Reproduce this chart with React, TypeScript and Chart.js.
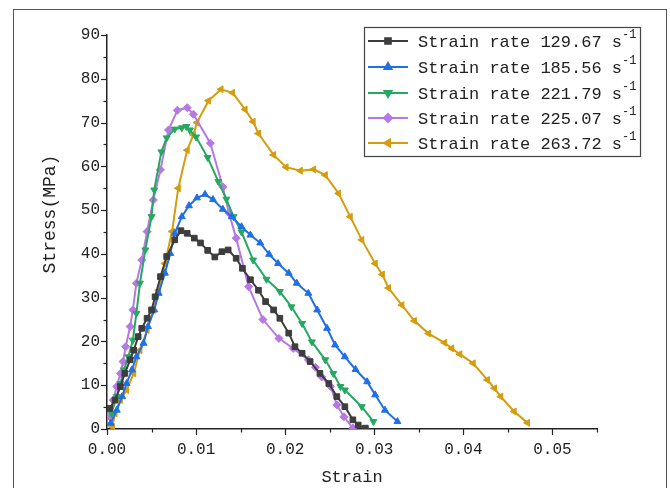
import React, { useEffect, useRef } from "react";
import { Chart, registerables } from "chart.js";
import { drawPoint } from "chart.js/helpers";

Chart.register(...registerables);

// ---- data ----
const seriesLabels = ["Strain rate 129.67", "Strain rate 185.56", "Strain rate 221.79", "Strain rate 225.07", "Strain rate 263.72"];

const strainA = [0.0003, 0.0009, 0.0015, 0.002, 0.0026, 0.003, 0.0035, 0.0039, 0.0045, 0.005, 0.0054, 0.006, 0.0067, 0.0076, 0.0083, 0.009, 0.0098, 0.0105, 0.0113, 0.0121, 0.0129, 0.0136, 0.0145, 0.0152, 0.0161, 0.017, 0.0178, 0.0187, 0.0194, 0.0204, 0.0211, 0.0219, 0.0228, 0.0239, 0.0249, 0.0258, 0.0267, 0.0276, 0.0282, 0.029];
const stressA = [4.7, 6.6, 9.7, 12.7, 15.8, 18.0, 21.1, 23.0, 25.3, 27.2, 30.2, 34.8, 39.4, 43.2, 45.3, 44.7, 43.6, 42.5, 40.8, 39.3, 40.5, 40.9, 39.0, 36.7, 34.1, 31.7, 29.1, 27.2, 25.3, 21.9, 18.8, 17.3, 15.4, 12.7, 10.4, 7.4, 5.1, 2.1, 0.9, 0.2];

const strainB = [0.0004, 0.0011, 0.0017, 0.0022, 0.0028, 0.0033, 0.0041, 0.0046, 0.0053, 0.0058, 0.0065, 0.0071, 0.0076, 0.0084, 0.0092, 0.0101, 0.011, 0.0119, 0.013, 0.014, 0.0151, 0.0161, 0.0172, 0.0182, 0.0192, 0.0204, 0.0213, 0.0226, 0.0236, 0.0247, 0.0256, 0.0267, 0.0279, 0.0292, 0.0301, 0.0312, 0.0326];
const stressB = [1.3, 4.3, 7.4, 10.4, 13.5, 16.5, 19.6, 23.4, 27.2, 31.0, 35.6, 40.1, 44.7, 48.5, 51.0, 52.8, 53.6, 52.4, 50.2, 48.5, 46.2, 44.3, 42.5, 39.9, 37.8, 35.6, 33.3, 31.0, 27.2, 23.0, 19.2, 16.5, 13.6, 10.8, 7.8, 4.3, 1.7];

const strainC = [0.0005, 0.0011, 0.0015, 0.0019, 0.0024, 0.0029, 0.0033, 0.0037, 0.0043, 0.005, 0.0053, 0.0061, 0.0067, 0.0076, 0.0084, 0.0089, 0.0093, 0.01, 0.0113, 0.0125, 0.0134, 0.0142, 0.0151, 0.0164, 0.0179, 0.0194, 0.0207, 0.0219, 0.023, 0.0245, 0.0254, 0.0262, 0.0267, 0.0286, 0.0299];
const stressC = [3.6, 7.4, 10.4, 13.5, 16.5, 20.3, 26.4, 33.3, 40.9, 48.5, 54.6, 63.3, 66.5, 68.5, 68.8, 69.1, 68.3, 66.7, 62.0, 56.5, 52.5, 48.5, 45.0, 38.6, 34.2, 31.4, 27.9, 24.1, 19.9, 15.8, 12.7, 9.7, 8.9, 5.1, 1.7];

const strainD = [0.0003, 0.0007, 0.0011, 0.0015, 0.0018, 0.0021, 0.0026, 0.0029, 0.0033, 0.0039, 0.0045, 0.0052, 0.006, 0.0069, 0.0079, 0.009, 0.0097, 0.0116, 0.013, 0.0137, 0.0145, 0.0159, 0.0175, 0.0193, 0.0209, 0.0226, 0.0234, 0.0241, 0.0251, 0.0258, 0.0266, 0.0276];
const stressD = [2.8, 6.6, 9.7, 12.7, 15.4, 18.8, 23.4, 27.2, 33.3, 38.6, 45.1, 52.3, 59.2, 68.3, 72.8, 73.4, 71.9, 65.3, 55.3, 49.3, 43.6, 32.5, 25.0, 20.7, 18.4, 15.8, 14.1, 11.9, 9.7, 5.5, 2.8, 0.2];

const strainE = [0.0006, 0.0009, 0.0015, 0.0022, 0.003, 0.0037, 0.0045, 0.0052, 0.0058, 0.0065, 0.0073, 0.008, 0.009, 0.0097, 0.0101, 0.0114, 0.0128, 0.0141, 0.0155, 0.0164, 0.017, 0.0187, 0.0201, 0.0217, 0.0232, 0.0245, 0.026, 0.0273, 0.0286, 0.0301, 0.0309, 0.0316, 0.0331, 0.0345, 0.0361, 0.0379, 0.0387, 0.0396, 0.0411, 0.0427, 0.0435, 0.0442, 0.0457, 0.0472];
const stressE = [0.5, 3.6, 6.6, 8.9, 12.7, 18.0, 22.6, 27.2, 31.7, 37.8, 45.1, 55.0, 63.7, 67.2, 70.0, 75.0, 77.6, 76.8, 73.0, 70.2, 67.5, 62.6, 59.8, 59.0, 59.3, 58.0, 53.8, 48.5, 43.2, 37.8, 35.3, 32.2, 28.3, 24.7, 21.8, 19.7, 18.4, 17.1, 15.0, 11.2, 9.3, 7.4, 4.0, 1.4];

const xTickValues = [0, 0.01, 0.02, 0.03, 0.04, 0.05];
const yTickValues = [0, 10, 20, 30, 40, 50, 60, 70, 80, 90];

// ---- styles ----
const colors = ["#3d3d3d", "#1f6fe5", "#27a862", "#b678e3", "#d49d0e"];
const pointStyles = ["rect", "triangle", "triangle", "rectRot", "triangle"];
const pointRotations = [0, 0, 180, 0, -90];
const pointRadii = [4, 4, 4, 4, 4];

const FONT = "'Liberation Mono', 'DejaVu Sans Mono', monospace";

const toPoints = (xs: number[], ys: number[]) => xs.map((x, i) => ({ x, y: ys[i] }));

const allSeries = [
  toPoints(strainA, stressA),
  toPoints(strainB, stressB),
  toPoints(strainC, stressC),
  toPoints(strainD, stressD),
  toPoints(strainE, stressE),
];

const decorPlugin = {
  id: "decor",
  afterDraw(chart: any) {
    const ctx = chart.ctx as CanvasRenderingContext2D;
    const area = chart.chartArea;
    const xs = chart.scales.x;
    const ys = chart.scales.y;
    ctx.save();
    // outer frame
    ctx.strokeStyle = "#555";
    ctx.lineWidth = 1;
    ctx.strokeRect(13.5, 9.5, 653, 600);

    // ticks
    ctx.strokeStyle = "#222";
    ctx.lineWidth = 1.2;
    for (let i = 0; i <= 18; i++) {
      const v = i * 5;
      const py = Math.round(ys.getPixelForValue(v)) + 0.5;
      const len = i % 2 === 0 ? 6 : 3.5;
      ctx.beginPath();
      ctx.moveTo(area.left, py);
      ctx.lineTo(area.left - len, py);
      ctx.stroke();
    }
    for (let i = 0; i <= 11; i++) {
      const v = i * 0.005;
      const px = Math.round(xs.getPixelForValue(v)) + 0.5;
      const len = i % 2 === 0 ? 6 : 3.5;
      ctx.beginPath();
      ctx.moveTo(px, area.bottom);
      ctx.lineTo(px, area.bottom + len);
      ctx.stroke();
    }

    // axis titles
    ctx.fillStyle = "#222";
    ctx.font = `17px ${FONT}`;
    ctx.textAlign = "center";
    ctx.textBaseline = "middle";
    ctx.fillText("Strain", (area.left + area.right) / 2, 477);
    ctx.save();
    ctx.translate(50, 214);
    ctx.rotate(-Math.PI / 2);
    ctx.font = `18px ${FONT}`;
    ctx.fillText("Stress(MPa)", 0, 0);
    ctx.restore();

    // legend
    const lx = 364.5, ly = 27.5, lw = 276, lh = 129;
    ctx.fillStyle = "#fff";
    ctx.fillRect(lx, ly, lw, lh);
    ctx.strokeStyle = "#444";
    ctx.lineWidth = 1.2;
    ctx.strokeRect(lx, ly, lw, lh);
    const rowY = [41, 67, 93, 118, 143];
    seriesLabels.forEach((label, i) => {
      const y = rowY[i];
      ctx.strokeStyle = colors[i];
      ctx.lineWidth = 2;
      ctx.beginPath();
      ctx.moveTo(368, y);
      ctx.lineTo(408, y);
      ctx.stroke();
      ctx.fillStyle = colors[i];
      drawPoint(ctx, { pointStyle: pointStyles[i] as any, rotation: pointRotations[i], radius: pointRadii[i], borderWidth: 1 }, 388, y);
      ctx.fill();
      ctx.fillStyle = "#222";
      ctx.font = `17px ${FONT}`;
      ctx.textAlign = "left";
      ctx.textBaseline = "middle";
      const txt = label + " s";
      ctx.fillText(txt, 418, y + 1);
      const w = ctx.measureText(txt).width;
      ctx.font = `12px ${FONT}`;
      ctx.fillText("-1", 418 + w, y - 6);
    });
    ctx.restore();
  },
};

export default function App() {
  const canvasRef = useRef<HTMLCanvasElement | null>(null);

  useEffect(() => {
    if (!canvasRef.current) return;
    const chart = new Chart(canvasRef.current, {
      type: "line",
      data: {
        datasets: allSeries.map((pts, i) => ({
          label: seriesLabels[i],
          data: pts,
          borderColor: colors[i],
          backgroundColor: colors[i],
          borderWidth: 2,
          pointStyle: pointStyles[i] as any,
          pointRotation: pointRotations[i],
          pointRadius: pointRadii[i],
          pointBorderWidth: 1,
          tension: 0,
        })),
      },
      options: {
        animation: false,
        responsive: false,
        devicePixelRatio: 1,
        layout: { padding: { left: 0, top: 35, right: 73, bottom: 0 } },
        plugins: { legend: { display: false }, tooltip: { enabled: false } },
        scales: {
          x: {
            type: "linear",
            min: 0,
            max: 0.055,
            afterBuildTicks: (scale: any) => {
              scale.ticks = xTickValues.map((v) => ({ value: v }));
            },
            afterFit: (scale: any) => {
              scale.height = 59;
            },
            ticks: {
              color: "#222",
              font: { family: FONT, size: 16 },
              padding: 5,
              maxRotation: 0,
              callback: (v: any) => Number(v).toFixed(2),
            },
            grid: { display: false, drawTicks: true, tickLength: 6 },
            border: { display: true, color: "#222", width: 1.5 },
          },
          y: {
            type: "linear",
            min: 0,
            max: 90,
            afterBuildTicks: (scale: any) => {
              scale.ticks = yTickValues.map((v) => ({ value: v }));
            },
            afterFit: (scale: any) => {
              scale.width = 107;
            },
            ticks: {
              color: "#222",
              font: { family: FONT, size: 16 },
              padding: 3,
              callback: (v: any) => String(v),
            },
            grid: { display: false, drawTicks: true, tickLength: 4 },
            border: { display: true, color: "#222", width: 1.5 },
          },
        },
      },
      plugins: [decorPlugin],
    });
    return () => chart.destroy();
  }, []);

  return (
    <canvas
      ref={canvasRef}
      width={670}
      height={488}
      style={{ position: "absolute", left: 0, top: 0, width: 670, height: 488, background: "#fff" }}
    />
  );
}
